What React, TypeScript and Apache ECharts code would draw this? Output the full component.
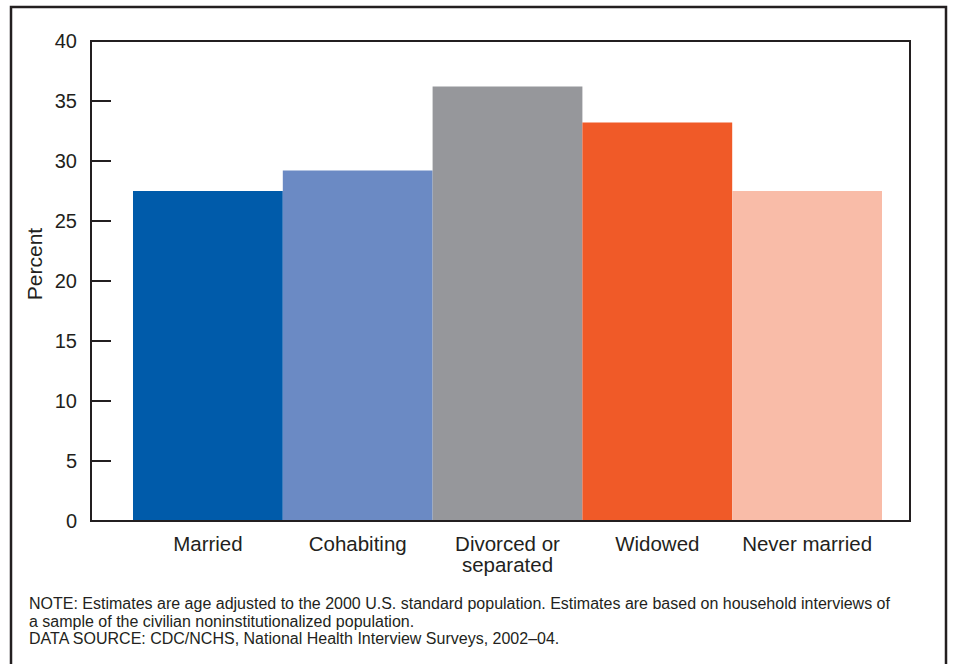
import React, { useEffect, useRef } from "react";
import * as echarts from "echarts";

const categories = ["Married", "Cohabiting", "Divorced or\nseparated", "Widowed", "Never married"];
const percentValues = [27.5, 29.2, 36.2, 33.2, 27.5];
const barColors = ["#005baa", "#6b8ac4", "#96979b", "#f05a28", "#f9bca8"];
const yTicks = { min: 0, max: 40, interval: 5 };
const yAxisTitle = "Percent";
const noteLines = [
  "NOTE: Estimates are age adjusted to the 2000 U.S. standard population. Estimates are based on household interviews of",
  "a sample of the civilian noninstitutionalized population.",
  "DATA SOURCE: CDC/NCHS, National Health Interview Surveys, 2002\u201304.",
];

const FONT = "'Liberation Sans', Arial, Helvetica, sans-serif";
const INK = "#231f20";

export default function App() {
  const ref = useRef<HTMLDivElement>(null);
  useEffect(() => {
    if (!ref.current) return;
    const chart = echarts.init(ref.current, undefined, { renderer: "svg" });
    chart.setOption({
      animation: false,
      backgroundColor: "#ffffff",
      textStyle: { fontFamily: FONT, color: INK },
      grid: [
        { left: 133, top: 41, width: 749, height: 480, containLabel: false },
        {
          left: 91,
          top: 41,
          width: 819,
          height: 480,
          show: true,
          borderColor: INK,
          borderWidth: 2,
          backgroundColor: "transparent",
          z: 5,
        },
      ],
      xAxis: [
        {
          type: "category",
          gridIndex: 0,
          data: categories,
          axisLine: { show: false },
          axisTick: { show: false },
          axisLabel: {
            fontSize: 20.5,
            lineHeight: 21,
            color: INK,
            margin: 12,
            fontFamily: FONT,
            interval: 0,
          },
        },
        { type: "value", gridIndex: 1, show: false, min: 0, max: 1 },
      ],
      yAxis: [
        { type: "value", gridIndex: 0, min: yTicks.min, max: yTicks.max, interval: yTicks.interval, show: false },
        {
          type: "value",
          gridIndex: 1,
          min: yTicks.min,
          max: yTicks.max,
          interval: yTicks.interval,
          splitLine: { show: false },
          axisLine: { show: true, lineStyle: { color: INK, width: 2 } },
          axisTick: { show: true, inside: true, length: 20, lineStyle: { color: INK, width: 2 } },
          axisLabel: { fontSize: 20, color: INK, margin: 14, fontFamily: FONT },
        },
      ],
      series: [
        {
          type: "bar",
          xAxisIndex: 0,
          yAxisIndex: 0,
          barCategoryGap: "0%",
          data: percentValues.map((v, i) => ({ value: v, itemStyle: { color: barColors[i] } })),
        },
      ],
      graphic: [
        {
          type: "rect",
          shape: { x: 11, y: 7, width: 935, height: 700 },
          style: { fill: "none", stroke: INK, lineWidth: 2.5 },
          silent: true,
        },
        {
          type: "text",
          x: 34,
          y: 264,
          rotation: Math.PI / 2,
          style: {
            text: yAxisTitle,
            fontSize: 21,
            fontFamily: FONT,
            fill: INK,
            align: "center",
            verticalAlign: "middle",
          },
        },
        {
          type: "text",
          x: 29,
          y: 595,
          style: {
            text: noteLines.join("\n"),
            fontSize: 16,
            lineHeight: 17.5,
            fontFamily: FONT,
            fill: INK,
            align: "left",
            verticalAlign: "top",
          },
        },
      ],
    });
    return () => chart.dispose();
  }, []);
  return (
    <div
      ref={ref}
      style={{ position: "fixed", left: 0, top: 0, width: 953, height: 664, background: "#fff" }}
    />
  );
}
